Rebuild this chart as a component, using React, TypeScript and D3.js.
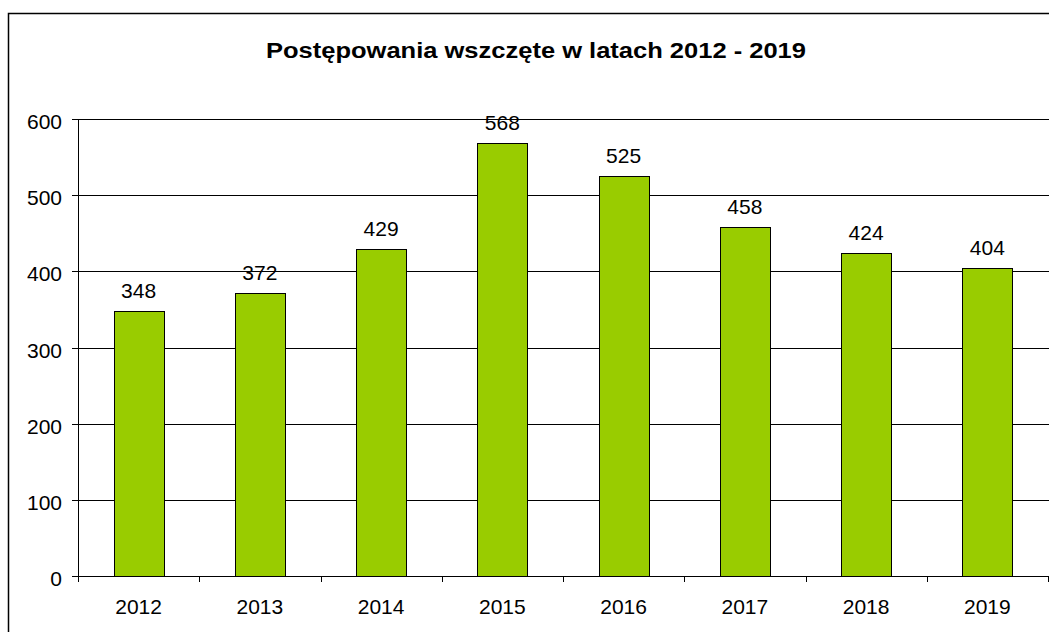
import React from "react";
import * as d3 from "d3";

const years = ["2012", "2013", "2014", "2015", "2016", "2017", "2018", "2019"];
const values = [348, 372, 429, 568, 525, 458, 424, 404];
const yTicks = [0, 100, 200, 300, 400, 500, 600];
const title = "Postępowania wszczęte w latach 2012 - 2019";

export default function App() {
  const W = 1049, H = 632;
  const left = 78, right = 1048, top = 119, bottom = 576;
  const x = d3.scaleBand<string>().domain(years).range([left, right]).paddingInner(0).paddingOuter(0);
  const y = d3.scaleLinear().domain([0, 600]).range([bottom, top]);
  const barW = 50;
  const font = "'Liberation Sans', Arial, sans-serif";
  return (
    <svg width={W} height={H} style={{ position: "absolute", left: 0, top: 0, background: "#fff" }} fontFamily={font}>
      <rect x={8.5} y={13.5} width={W + 20} height={H + 20} fill="#fff" stroke="#000" strokeWidth={1.5} />
      <text x={536} y={57.5} textAnchor="middle" fontSize={22} fontWeight="bold" fill="#000" textLength={540} lengthAdjust="spacingAndGlyphs">{title}</text>
      {yTicks.map((t) => (
        <g key={t}>
          <line x1={72} x2={right + 10} y1={Math.round(y(t)) + 0.5} y2={Math.round(y(t)) + 0.5} stroke="#000" strokeWidth={1} />
          <text x={62} y={y(t) + 10} textAnchor="end" fontSize={21} fill="#000">{t}</text>
        </g>
      ))}
      <line x1={left + 0.5} x2={left + 0.5} y1={top} y2={bottom} stroke="#000" strokeWidth={1} />
      {years.map((yr, i) => {
        const cx = (x(yr) as number) + x.bandwidth() / 2;
        const bx = cx - barW / 2;
        const by = y(values[i]);
        return (
          <g key={yr}>
            <rect x={Math.round(bx) + 0.5} y={Math.round(by) + 0.5} width={barW} height={bottom - Math.round(by)} fill="#99CC00" stroke="#000" strokeWidth={1} />
            <text x={cx} y={by - 13} textAnchor="middle" fontSize={21} fill="#000">{values[i]}</text>
            <text x={cx} y={614} textAnchor="middle" fontSize={21} fill="#000">{yr}</text>
          </g>
        );
      })}
      {years.concat(["end"]).map((yr, i) => {
        const tx = Math.round(left + i * x.bandwidth()) + 0.5;
        return <line key={"t" + i} x1={tx} x2={tx} y1={bottom} y2={bottom + 6} stroke="#000" strokeWidth={1} />;
      })}
    </svg>
  );
}
